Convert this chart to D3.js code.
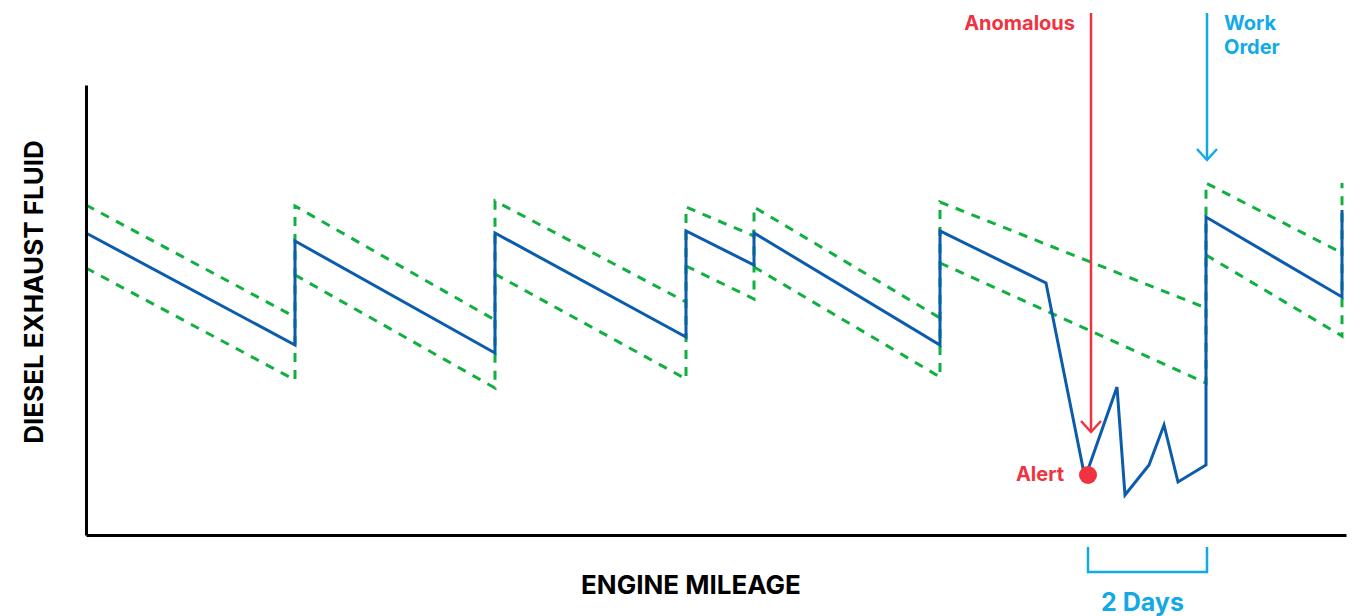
<!DOCTYPE html>
<html>
<head>
<meta charset="utf-8">
<script src="https://cdn.jsdelivr.net/npm/d3@7"></script>
<style>
  body { margin: 0; background: #fff; }
  text { font-family: Inter, Roboto, "Liberation Sans", sans-serif; font-weight: 700; }
</style>
</head>
<body>
<div id="chart"></div>
<script>
// chart data (x = engine mileage, y = DEF level, arbitrary units)
var defMileage = [0, 209, 209, 409, 409, 600, 600, 668, 668, 854, 854, 960, 999, 1031, 1039, 1063, 1078, 1092, 1120, 1120, 1256, 1256];
var defLevel   = [302, 190, 294, 182, 302, 198, 304, 270, 302, 190, 304, 252, 57, 148, 40, 70, 110, 53, 70, 318, 238, 325];

// refill points and expected band (upper / lower) at start and end of each fill
var fillStart  = [0, 209, 409, 600, 668, 854, 1120];
var fillEnd    = [209, 409, 600, 668, 854, 1120, 1256];
var upperStart = [330, 329, 334, 328, 328, 333, 352];
var upperEnd   = [218, 215, 233, 299, 217, 227, 282];
var lowerStart = [267, 260, 261, 269, 268, 272, 280];
var lowerEnd   = [155, 147, 156, 236, 158, 152, 199];
var nextUpper  = 352;   // band top after last refill

var alertMileage = 1002;
var alertLevel = 60;
var workOrderMileage = 1121;

// dimensions
var width = 1362;
var height = 616;
var margin = {left: 86, right: 16, top: 85, bottom: 81};

var red = "#ef3340";
var lightBlue = "#12aae6";
var lineBlue = "#0b5cad";
var green = "#10b040";

var svg = d3.select("#chart")
  .append("svg")
  .attr("width", width)
  .attr("height", height);

var x = d3.scaleLinear()
  .domain([0, 1260])
  .range([margin.left, width - margin.right]);

var y = d3.scaleLinear()
  .domain([0, 450])
  .range([height - margin.bottom, margin.top]);

// build band polylines: lower of one fill, up the refill line, upper of the next fill
var bandPieces = [];
bandPieces.push([[fillStart[0], upperStart[0]], [fillEnd[0], upperEnd[0]]]);
for (var i = 0; i < fillStart.length; i++) {
  var topNext = (i + 1 < fillStart.length) ? upperStart[i + 1] : nextUpper;
  var piece = [[fillStart[i], lowerStart[i]], [fillEnd[i], lowerEnd[i]], [fillEnd[i], topNext]];
  if (i + 1 < fillStart.length) piece.push([fillEnd[i + 1], upperEnd[i + 1]]);
  bandPieces.push(piece);
}

var line = d3.line()
  .x(function(d) { return x(d[0]); })
  .y(function(d) { return y(d[1]); });

svg.append("g")
  .selectAll("path")
  .data(bandPieces)
  .enter()
  .append("path")
  .attr("d", line)
  .attr("fill", "none")
  .attr("stroke", green)
  .attr("stroke-width", 3)
  .attr("stroke-dasharray", "9,8")
  .attr("stroke-linejoin", "miter");

// main DEF line
var defPoints = defMileage.map(function(m, i) { return [m, defLevel[i]]; });
svg.append("path")
  .datum(defPoints)
  .attr("d", line)
  .attr("fill", "none")
  .attr("stroke", lineBlue)
  .attr("stroke-width", 3)
  .attr("stroke-linejoin", "miter");

// axes (no ticks)
svg.append("g")
  .attr("transform", "translate(0," + y(0) + ")")
  .call(d3.axisBottom(x).ticks(0).tickSizeOuter(0))
  .select(".domain")
  .attr("stroke", "#000")
  .attr("stroke-width", 3);

svg.append("g")
  .attr("transform", "translate(" + x(0) + ",0)")
  .call(d3.axisLeft(y).ticks(0).tickSizeOuter(0))
  .select(".domain")
  .attr("stroke", "#000")
  .attr("stroke-width", 3);

// axis titles
svg.append("text")
  .attr("x", 691)
  .attr("y", 594)
  .attr("text-anchor", "middle")
  .style("font-size", "26px")
  .attr("fill", "#000")
  .text("ENGINE MILEAGE");

svg.append("text")
  .attr("transform", "translate(43,292) rotate(-90)")
  .attr("text-anchor", "middle")
  .style("font-size", "26px")
  .attr("fill", "#000")
  .text("DIESEL EXHAUST FLUID");

// arrows
function arrow(xPos, yTop, yTip, color) {
  var g = svg.append("g").attr("stroke", color).attr("stroke-width", 2.5).attr("fill", "none");
  g.append("line").attr("x1", xPos).attr("x2", xPos).attr("y1", yTop).attr("y2", yTip);
  g.append("polyline")
    .attr("points", [[xPos - 10, yTip - 11], [xPos, yTip], [xPos + 10, yTip - 11]].join(" "));
}
arrow(x(alertMileage + 3), 13, 432, red);
arrow(x(workOrderMileage), 13, 160, lightBlue);

svg.append("text")
  .attr("x", x(alertMileage + 3) - 16)
  .attr("y", 30)
  .attr("text-anchor", "end")
  .attr("fill", red)
  .style("font-size", "20px")
  .text("Anomalous");

svg.append("text")
  .attr("x", x(workOrderMileage) + 17)
  .attr("y", 30)
  .attr("fill", lightBlue)
  .style("font-size", "20px")
  .text("Work");
svg.append("text")
  .attr("x", x(workOrderMileage) + 17)
  .attr("y", 54)
  .attr("fill", lightBlue)
  .style("font-size", "20px")
  .text("Order");

// alert dot
svg.append("circle")
  .attr("cx", x(alertMileage))
  .attr("cy", y(alertLevel))
  .attr("r", 9)
  .attr("fill", red);

svg.append("text")
  .attr("x", x(alertMileage) - 24)
  .attr("y", y(alertLevel) + 6)
  .attr("text-anchor", "end")
  .attr("fill", red)
  .style("font-size", "20px")
  .text("Alert");

// 2 days bracket
svg.append("polyline")
  .attr("points", [[x(alertMileage), 547], [x(alertMileage), 572], [x(workOrderMileage), 572], [x(workOrderMileage), 547]].join(" "))
  .attr("fill", "none")
  .attr("stroke", lightBlue)
  .attr("stroke-width", 2.5);

svg.append("text")
  .attr("x", (x(alertMileage) + x(workOrderMileage)) / 2 - 5)
  .attr("y", 611)
  .attr("text-anchor", "middle")
  .attr("fill", lightBlue)
  .style("font-size", "25px")
  .text("2 Days");
</script>
</body>
</html>
